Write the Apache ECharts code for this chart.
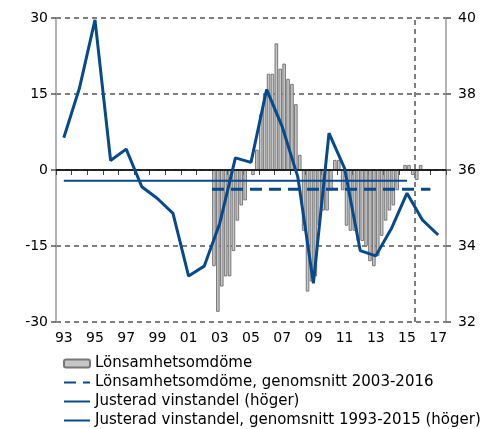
<!DOCTYPE html>
<html><head><meta charset="utf-8">
<script src="https://cdn.jsdelivr.net/npm/echarts@6/dist/echarts.min.js"></script>
<style>html,body{margin:0;padding:0;background:#fff}#c{width:496px;height:429px}</style>
</head><body><div id="c"></div>
<script>
// ---- data ----
const years = [1993,1994,1995,1996,1997,1998,1999,2000,2001,2002,2003,2004,2005,2006,2007,2008,2009,2010,2011,2012,2013,2014,2015,2016,2017];
const yearLabels = years.map(y => String(y).slice(2));
const barStartYear = 2003;
// Lönsamhetsomdöme, quarterly 2003Q1 - 2016Q4
const lonsamhet = [
  -19,-28,-23,-21,
  -21,-16,-10,-7,
  -6,0,-1,4,
  11,15,19,19,
  25,20,21,18,
  17,13,3,-12,
  -24,-22,-21,-11,
  -8,-8,-4,2,
  2,-4,-11,-12,
  -12,-14,-14,-15,
  -18,-19,-17,-13,
  -10,-8,-7,-4,
  0,1,1,-1,
  -2,1,0,0
];
const lonsamhetAvg = -3.8;
const lonsamhetAvgSpan = [2003, 2017];
// Justerad vinstandel (höger), annual
const vinstandel = [36.85,38.15,39.95,36.25,36.55,35.56,35.25,34.86,33.21,33.47,34.6,36.32,36.2,38.12,37.14,35.82,33.02,36.97,36.04,33.88,33.74,34.46,35.39,34.68,34.29];
const vinstandelAvg = 35.72;
const vinstandelAvgSpan = [1993, 2015];
const forecastStart = 2016;
const leftTicks = {min:-30, max:30, interval:15};
const rightTicks = {min:32, max:40, interval:2};

// ---- chart ----
const FONT = 'DejaVu Sans';
const BLUE = '#064a8c';
const GRID_GRAY = '#7f7f7f';
const chart = echarts.init(document.getElementById('c'), null, {renderer:'canvas'});
const barData = lonsamhet.map((v,i) => [barStartYear + (i + 0.5) / 4, v]);
const lineData = vinstandel.map((v,i) => [years[i] + 0.5, v]);
const names = ['Lönsamhetsomdöme','Lönsamhetsomdöme, genomsnitt 2003-2016','Justerad vinstandel (höger)','Justerad vinstandel, genomsnitt 1993-2015 (höger)'];
const noSym = {opacity:0};

chart.setOption({
  animation:false,
  backgroundColor:'#fff',
  grid:{left:56,right:50,top:18,bottom:107,containLabel:false,outerBoundsMode:'none'},
  legend:{
    orient:'vertical',left:58,top:351,height:90,itemWidth:26,itemHeight:8,itemGap:4,
    selectedMode:false,
    textStyle:{fontFamily:FONT,fontSize:15,color:'#000'},
    data:[
      {name:names[0]},
      {name:names[1],itemStyle:noSym},
      {name:names[2],itemStyle:noSym},
      {name:names[3],itemStyle:noSym}
    ]
  },
  xAxis:[
    {type:'category',data:yearLabels,boundaryGap:true,position:'bottom',
     axisLine:{show:true,lineStyle:{color:'#808080',width:1.5}},
     axisTick:{show:true,interval:0,alignWithLabel:false,length:5,inside:false,lineStyle:{color:'#444',width:1}},
     axisLabel:{interval:1,margin:9,fontFamily:FONT,fontSize:14,color:'#000'},
     splitLine:{show:false}},
    {type:'value',min:years[0],max:years[years.length-1]+1,show:false,splitLine:{show:false}}
  ],
  yAxis:[
    {type:'value',min:leftTicks.min,max:leftTicks.max,interval:leftTicks.interval,position:'left',
     axisLine:{show:true,lineStyle:{color:'#999',width:1.5}},
     axisTick:{show:true,length:5,inside:false,lineStyle:{color:'#555',width:1.5}},
     axisLabel:{margin:8,fontFamily:FONT,fontSize:14,color:'#000'},
     splitLine:{show:true,lineStyle:{color:GRID_GRAY,width:2,type:[5,4]}}},
    {type:'value',min:rightTicks.min,max:rightTicks.max,interval:rightTicks.interval,position:'right',
     axisLine:{show:true,lineStyle:{color:'#999',width:1.5}},
     axisTick:{show:true,length:5,inside:false,lineStyle:{color:'#555',width:1.5}},
     axisLabel:{margin:12,fontFamily:FONT,fontSize:14,color:'#000'},
     splitLine:{show:false}}
  ],
  series:[
    {name:names[0],type:'bar',xAxisIndex:1,yAxisIndex:0,data:barData,barWidth:3.6,
     itemStyle:{color:'#c6c6c6',borderColor:'#777',borderWidth:1},
     z:2,
     markLine:{silent:true,symbol:'none',label:{show:false},animation:false,
       data:[
         {yAxis:0,lineStyle:{color:'#000',width:1.5,type:'solid'}},
         {xAxis:forecastStart,lineStyle:{color:GRID_GRAY,width:2,type:[5,4]}}
       ]}},
    {name:names[1],type:'line',xAxisIndex:1,yAxisIndex:0,symbol:'none',z:3,color:BLUE,
     data:lonsamhetAvgSpan.map(x => [x, lonsamhetAvg]),
     lineStyle:{color:BLUE,width:3,type:[12,7]}},
    {name:names[2],type:'line',xAxisIndex:1,yAxisIndex:1,symbol:'none',z:5,color:BLUE,
     data:lineData,lineStyle:{color:BLUE,width:3}},
    {name:names[3],type:'line',xAxisIndex:1,yAxisIndex:1,symbol:'none',z:4,color:BLUE,
     data:vinstandelAvgSpan.map(y => [y + 0.5, vinstandelAvg]),
     lineStyle:{color:BLUE,width:2}}
  ]
});
</script></body></html>
